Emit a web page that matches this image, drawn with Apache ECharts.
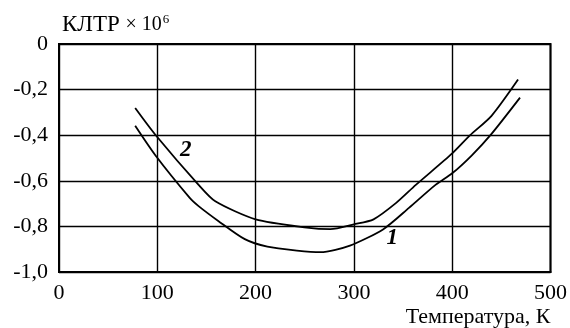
<!DOCTYPE html>
<html>
<head>
<meta charset="utf-8">
<script src="https://cdn.jsdelivr.net/npm/echarts@6/dist/echarts.min.js"></script>
<style>
  html, body { margin: 0; padding: 0; background: #fff; }
  #chart { width: 570px; height: 328px; }
</style>
</head>
<body>
<div id="chart"></div>
<script>
// curve 1 (lower) and curve 2 (upper), [temperature K, KLTR x 10^6]
const curve1 = [
  [77.5, -0.359], [98, -0.488], [133, -0.675], [142, -0.711], [162, -0.776],
  [189, -0.856], [212, -0.889], [242, -0.906], [266, -0.913], [296, -0.884],
  [330, -0.812], [356, -0.719], [383, -0.618], [400, -0.567], [420, -0.488],
  [440, -0.394], [469, -0.235],
];
const curve2 = [
  [77.5, -0.281], [98, -0.398], [142, -0.618], [159, -0.69], [200, -0.769],
  [252, -0.805], [276, -0.812], [300, -0.791], [320, -0.769], [343, -0.697],
  [363, -0.618], [400, -0.48], [418, -0.401], [440, -0.315], [467, -0.156],
];
// where the curve numbers sit
const label1 = [339, -0.85];
const label2 = [129, -0.466];

const font = "'Liberation Serif', 'DejaVu Serif', serif";
const chart = echarts.init(document.getElementById("chart"));

function curve(name, data, at) {
  return {
    type: "line",
    name,
    data,
    showSymbol: false,
    smooth: 0.25,
    lineStyle: { color: "#000", width: 1.8 },
    markPoint: {
      symbol: "circle",
      symbolSize: 0,
      silent: true,
      data: [{ coord: at, value: name }],
      label: {
        show: true,
        position: "inside",
        formatter: "{c}",
        fontFamily: font, fontStyle: "italic", fontWeight: "bold", fontSize: 23,
        color: "#000", opacity: 1,
      },
    },
  };
}

chart.setOption({
  animation: false,
  backgroundColor: "#fff",
  textStyle: { fontFamily: font, color: "#000" },
  title: {
    text: "КЛТР {s|× 10}{sup|6}",
    left: 57,
    top: 8,
    textStyle: {
      fontFamily: font, fontSize: 23, fontWeight: "normal", color: "#000",
      rich: {
        s: { fontFamily: font, fontSize: 20, color: "#000" },
        sup: { fontFamily: font, fontSize: 13, color: "#000", verticalAlign: "top", padding: [0, 0, 9, 1] },
      },
    },
  },
  grid: { left: 59, right: 14, top: 44, bottom: 53, show: true, borderColor: "#000", borderWidth: 2 },
  xAxis: {
    type: "value",
    min: 0, max: 500, interval: 100,
    name: "Температура, К",
    nameLocation: "end",
    nameGap: 0,
    nameTextStyle: { fontFamily: font, fontSize: 22, color: "#000", align: "right", verticalAlign: "top", padding: [34, 0, 0, 0] },
    axisLine: { onZero: false, lineStyle: { color: "#000", width: 2 } },
    axisTick: { show: false },
    axisLabel: { fontFamily: font, fontSize: 22, color: "#000", margin: 10 },
    splitLine: { lineStyle: { color: "#000", width: 1.4 } },
  },
  yAxis: {
    type: "value",
    min: -1, max: 0, interval: 0.2,
    axisLine: { onZero: false, lineStyle: { color: "#000", width: 2 } },
    axisTick: { show: false },
    axisLabel: {
      fontFamily: font, fontSize: 22, color: "#000", margin: 11,
      formatter: (v) => (v === 0 ? "0" : v.toFixed(1).replace(".", ",")),
    },
    splitLine: { lineStyle: { color: "#000", width: 1.4 } },
  },
  series: [
    curve("1", curve1, label1),
    curve("2", curve2, label2),
  ],
});
</script>
</body>
</html>
